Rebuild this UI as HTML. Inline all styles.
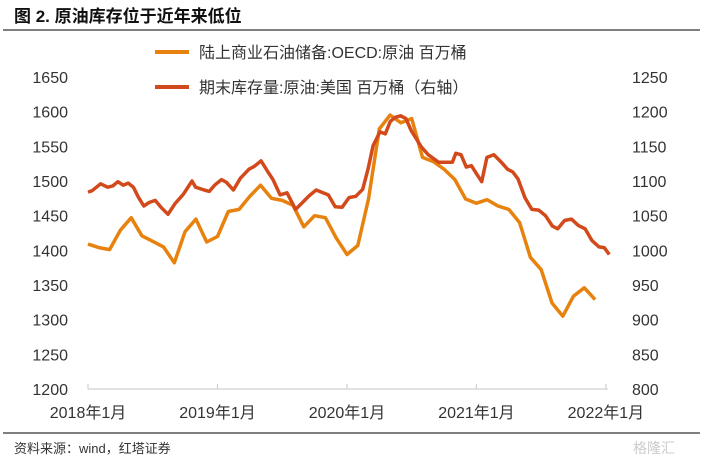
<!DOCTYPE html>
<html><head><meta charset="utf-8">
<style>
body{margin:0;background:#fff;width:703px;height:460px;overflow:hidden;font-family:"Liberation Sans","Noto Sans CJK SC",sans-serif;}
svg{display:block}
</style></head>
<body>
<svg id="chart" width="703" height="460" viewBox="0 0 703 460" xmlns="http://www.w3.org/2000/svg">
  <text x="14" y="22" font-size="17" font-weight="bold" fill="#111" font-family="Liberation Sans,Noto Sans CJK SC,sans-serif">图 2. 原油库存位于近年来低位</text>
  <line x1="3" y1="30" x2="700" y2="30" stroke="#333" stroke-width="1.2"/>
  <g>
    <line x1="155" y1="52" x2="189" y2="52" stroke="#E8820E" stroke-width="4"/>
    <text x="199" y="58" font-size="16" fill="#333">陆上商业石油储备:OECD:原油 百万桶</text>
    <line x1="155" y1="87" x2="189" y2="87" stroke="#D24A1B" stroke-width="4"/>
    <text x="199" y="93" font-size="16" fill="#333">期末库存量:原油:美国 百万桶（右轴）</text>
  </g>
  <g id="axes"></g>
  <g id="series"></g>
  <line x1="3" y1="433" x2="700" y2="433" stroke="#333" stroke-width="1.2"/>
  <text x="14" y="453" font-size="13" fill="#333">资料来源：wind，红塔证券</text>
  <text x="633" y="453" font-size="14" fill="#ccc">格隆汇</text>
</svg>
<script>
const leftTicks=[1200,1250,1300,1350,1400,1450,1500,1550,1600,1650];
const rightTicks=[800,850,900,950,1000,1050,1100,1150,1200,1250];
const xLabels=["2018年1月","2019年1月","2020年1月","2021年1月","2022年1月"];
const xLabelMonths=[0,12,24,36,48];
const oecdMonths=[0,1,2,3,4,5,6,7,8,9,10,11,12,13,14,15,16,17,18,19,20,21,22,23,24,25,26,27,28,29,30,31,32,33,34,35,36,37,38,39,40,41,42,43,44,45,46,47];
const oecdValues=[1409,1404,1401,1429,1447,1421,1413,1405,1382,1427,1445,1412,1420,1456,1459,1478,1494,1475,1472,1465,1434,1450,1447,1418,1394,1407,1474,1575,1595,1584,1590,1534,1528,1517,1502,1474,1468,1473,1464,1459,1440,1390,1372,1324,1305,1334,1346,1329];
const usMonths=[0,0.38,1.17,1.82,2.3,2.77,3.26,3.73,4.21,4.69,5.17,5.66,6.23,6.77,7.41,8.04,8.84,9.64,9.97,10.77,11.24,11.73,12.37,12.84,13.48,14.12,14.92,15.4,16.04,16.68,17.15,17.8,18.44,19.24,19.88,20.51,21.15,21.63,22.27,22.91,23.55,24.19,24.82,25.46,25.95,26.42,27.06,27.55,28.02,28.5,28.98,29.46,29.94,30.9,31.53,32.5,33.13,33.77,34.09,34.57,35.06,35.53,36.02,36.49,36.97,37.61,38.25,38.88,39.37,39.85,40.49,41.13,41.77,42.4,43.04,43.53,44.16,44.8,45.44,46.07,46.71,47.36,47.84,48.31];
const usValues=[1084,1086,1096,1091,1093,1099,1094,1097,1091,1076,1064,1069,1072,1062,1052,1067,1081,1100,1091,1087,1085,1094,1102,1098,1087,1104,1117,1121,1129,1113,1102,1080,1083,1059,1069,1079,1087,1084,1080,1063,1062,1076,1078,1088,1117,1151,1171,1168,1186,1192,1194,1190,1173,1149,1138,1127,1127,1127,1140,1138,1120,1122,1110,1099,1134,1138,1128,1117,1113,1103,1076,1059,1058,1050,1035,1031,1043,1045,1036,1031,1014,1005,1004,994];

const NS="http://www.w3.org/2000/svg";
const X0=88,XPM=10.79,YTOP=77,YBOT=389;
function xS(m){return X0+m*XPM;}
function yL(v){return YBOT-(v-1200)/(1650-1200)*(YBOT-YTOP);}
function yR(v){return YBOT-(v-800)/(1250-800)*(YBOT-YTOP);}
function mk(tag,attrs,parent){const e=document.createElementNS(NS,tag);for(const k in attrs)e.setAttribute(k,attrs[k]);parent.appendChild(e);return e;}
const axes=document.getElementById('axes'),series=document.getElementById('series');

leftTicks.forEach(v=>{const t=mk('text',{x:68,y:yL(v)+6,'text-anchor':'end','font-size':16,fill:'#333'},axes);t.textContent=v;

});
rightTicks.forEach(v=>{const t=mk('text',{x:632,y:yR(v)+6,'font-size':16,fill:'#333'},axes);t.textContent=v;

});
const ax=mk('line',{x1:xS(0),y1:YBOT,x2:xS(48)+2,y2:YBOT,stroke:'#d0d0d0','stroke-width':1.2},axes);


xLabels.forEach((s,i)=>{const m=xLabelMonths[i];
const tk=mk('line',{x1:xS(m),y1:YBOT,x2:xS(m),y2:YBOT-5,stroke:'#d0d0d0','stroke-width':1.2},axes);


const t=mk('text',{x:xS(m),y:418,'text-anchor':'middle','font-size':16,fill:'#333'},axes);t.textContent=s;

});

function pts(ms,vs,f){return ms.map((m,i)=>xS(m).toFixed(1)+','+f(vs[i]).toFixed(1)).join(' ');}
const l1=mk('polyline',{points:pts(oecdMonths,oecdValues,yL),fill:'none',stroke:'#E8820E','stroke-width':3.5,'stroke-linejoin':'round'},series);


const l2=mk('polyline',{points:pts(usMonths,usValues,yR),fill:'none',stroke:'#D24A1B','stroke-width':3.5,'stroke-linejoin':'round'},series);


</script>
</body></html>
